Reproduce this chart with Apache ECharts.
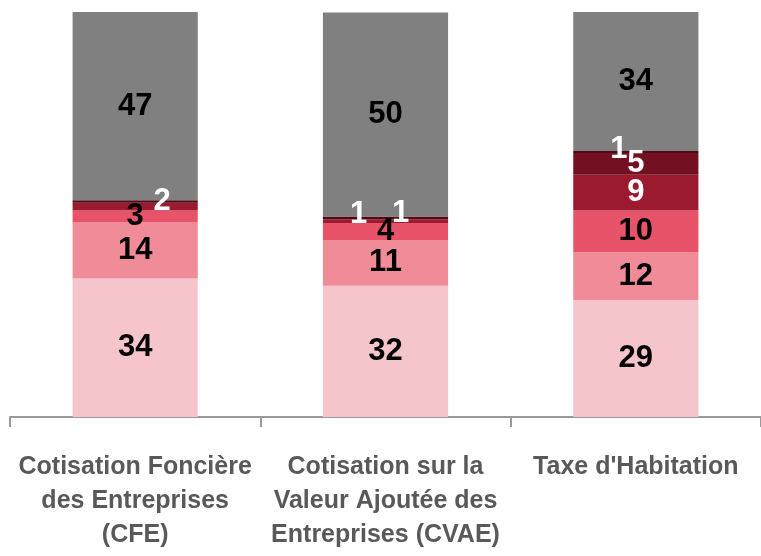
<!DOCTYPE html>
<html>
<head>
<meta charset="utf-8">
<script src="https://cdn.jsdelivr.net/npm/echarts@6/dist/echarts.min.js"></script>
<style>
  html, body { margin: 0; padding: 0; background: #fff; }
  #chart { width: 761px; height: 556px; }
</style>
</head>
<body>
<div id="chart"></div>
<script>
// categories (tick labels, wrapped as in the picture)
var categories = [
  "Cotisation Foncière\ndes Entreprises\n(CFE)",
  "Cotisation sur la\nValeur Ajoutée des\nEntreprises (CVAE)",
  "Taxe d'Habitation"
];

// stacked shares, bottom to top (%)
var part1 = [34.2, 32.4, 28.8];
var part2 = [13.8, 11.3, 11.9];
var part3 = [3.0, 4.2, 10.3];
var part4 = [1.9, 0.9, 8.8];
var part5 = [0, 0, 5.4];
var part6 = [0.6, 0.7, 0.5];
var part7 = [46.5, 50.4, 34.3];

var FONT = "'Liberation Sans', Arial, sans-serif";

var layers = [
  { data: part1, color: "#F6C4CB", text: "#000" },
  { data: part2, color: "#F08B98", text: "#000" },
  { data: part3, color: "#E8536A", text: "#000" },
  { data: part4, color: "#9C1A2F", text: "#fff" },
  { data: part5, color: "#731021", text: "#fff" },
  { data: part6, color: "#4E0A18", text: "#fff" },
  { data: part7, color: "#808080", text: "#000" }
];

// labels of thin segments moved aside, [layer][category] -> offset, or false to hide
var labelMoves = {
  "3-0": [27, -5],
  "3-1": [-27, -7],
  "5-0": false,
  "5-1": [15, -4],
  "5-2": [-17, -2]
};

var chart = echarts.init(document.getElementById("chart"));

var series = layers.map(function (layer, li) {
  return {
    type: "bar",
    stack: "total",
    barWidth: "50%",
    itemStyle: { color: layer.color },
    label: {
      show: true,
      position: "inside",
      color: layer.text,
      fontFamily: FONT,
      fontWeight: "bold",
      fontSize: 31,
      formatter: function (p) {
        return p.value > 0 ? Math.round(p.value) : "";
      }
    },
    data: layer.data.map(function (v, ci) {
      var move = labelMoves[li + "-" + ci];
      if (move === false) return { value: v, label: { show: false } };
      if (move) return { value: v, label: { offset: move } };
      return v;
    })
  };
});

chart.setOption({
  animation: false,
  grid: { left: 10, right: -4, top: 12, bottom: 139, containLabel: false },
  xAxis: {
    type: "category",
    data: categories,
    axisLine: { lineStyle: { color: "#999", width: 2 } },
    axisTick: { show: true, length: 10, lineStyle: { color: "#999", width: 2 } },
    axisLabel: {
      interval: 0,
      margin: 33,
      color: "#595959",
      fontFamily: FONT,
      fontWeight: "bold",
      fontSize: 25,
      lineHeight: 34
    }
  },
  yAxis: {
    type: "value",
    min: 0,
    max: 100,
    show: false,
    splitLine: { show: false }
  },
  series: series
});
</script>
</body>
</html>
